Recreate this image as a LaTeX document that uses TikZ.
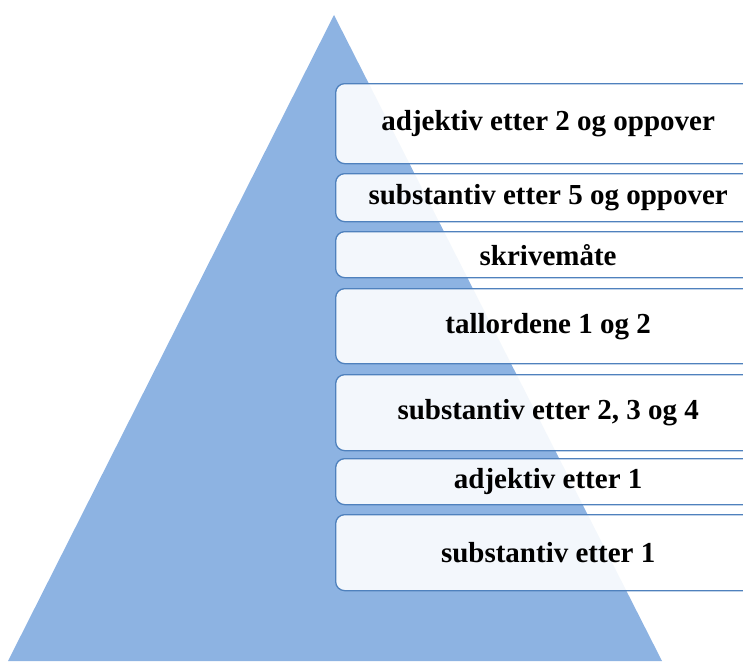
\documentclass[tikz,border=0pt]{standalone}
\usepackage{fontspec}
\setmainfont{Liberation Serif}
\definecolor{pyrblue}{HTML}{8DB3E2}
\definecolor{boxline}{HTML}{4F81BD}
\tikzset{level/.style={draw=boxline, line width=1.3pt, fill=white, fill opacity=0.9,
	text opacity=1, rounded corners=9pt, anchor=north west, minimum width=425pt,
	inner sep=0pt, font=\bfseries\fontsize{29}{32}\selectfont}}

\begin{document}
\begin{tikzpicture}[x=1pt,y=-1pt]
			\useasboundingbox (0,0) rectangle (743,661);
			\clip (0,0) rectangle (743,661);
			% pyramid
			\fill[pyrblue] (334,15) -- (662,661) -- (8,661) -- cycle;
			% levels, top to bottom
			\node[level, minimum height=80pt] (adjup) at (335,83) {adjektiv etter 2 og oppover};
			\node[level, minimum height=48pt] (subup) at (335,173) {substantiv etter 5 og oppover};
			\node[level, minimum height=46pt] (skriv) at (335,231) {skrivemåte};
			\node[level, minimum height=75pt] (tall) at (335,288) {tallordene 1 og 2};
			\node[level, minimum height=76pt] (sub234) at (335,374) {substantiv etter 2, 3 og 4};
			\node[level, minimum height=46pt] (adj1) at (335,458) {adjektiv etter 1};
			\node[level, minimum height=76pt] (sub1) at (335,514) {substantiv etter 1};
			\end{tikzpicture}
\end{document}
